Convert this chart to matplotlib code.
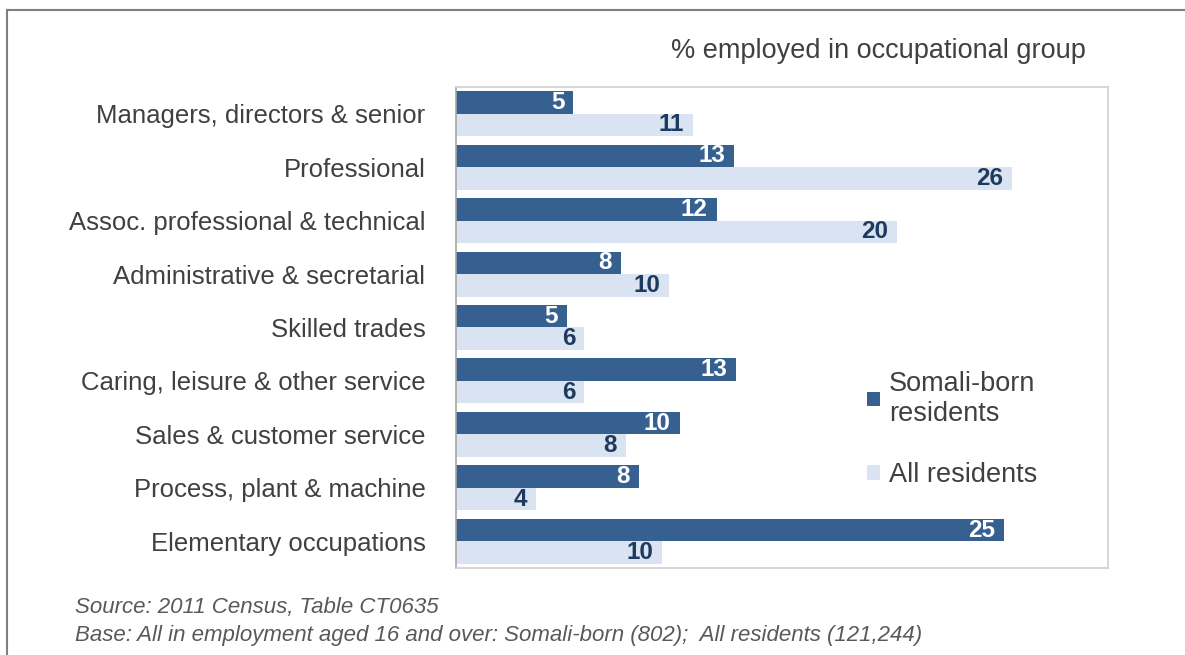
import matplotlib
matplotlib.use("Agg")
import matplotlib.pyplot as plt
from matplotlib.lines import Line2D
import numpy as np

plt.rcParams["font.family"] = ["Liberation Sans", "DejaVu Sans"]

# occupational groups, top to bottom
groups = [
    "Managers, directors & senior",
    "Professional",
    "Assoc. professional & technical",
    "Administrative & secretarial",
    "Skilled trades",
    "Caring, leisure & other service",
    "Sales & customer service",
    "Process, plant & machine",
    "Elementary occupations",
]
# % employed, labels shown rounded
somali = [5.4, 12.8, 12.0, 7.6, 5.1, 12.9, 10.3, 8.4, 25.2]
all_res = [10.9, 25.6, 20.3, 9.8, 5.9, 5.9, 7.8, 3.7, 9.5]

DARK = "#36608F"
LIGHT = "#DAE3F1"
NAVY = "#1F3A5F"
INK = "#404040"
GREY = "#595959"

fig = plt.figure(figsize=(11.85, 6.55), dpi=100)
ax = fig.add_axes([0.3848, 0.1328, 0.5502, 0.7344])

y = np.arange(len(groups))
h = 0.42
b1 = ax.barh(y - h / 2, somali, height=h, color=DARK, label="Somali-born\nresidents")
b2 = ax.barh(y + h / 2, all_res, height=h, color=LIGHT, label="All residents")

for bars, vals, col in ((b1, somali, "white"), (b2, all_res, NAVY)):
    for bar, v in zip(bars, vals):
        ax.annotate(f"{round(v)}", (v, bar.get_y() + bar.get_height() / 2),
                    xytext=(-6.5, 0), textcoords="offset points",
                    ha="right", va="center", fontsize=17.5, fontweight="bold",
                    color=col)

ax.set_xlim(0, 30)
ax.set_ylim(len(groups) - 0.5, -0.5)
ax.set_xticks([])
ax.set_yticks(y)
ax.set_yticklabels(groups, fontsize=18.5, color=INK)
ax.tick_params(axis="y", length=0, pad=22)
for s in ax.spines.values():
    s.set_color("#D0D0D0")
    s.set_linewidth(1.2)
ax.spines["left"].set_color("#A6A6A6")

leg = ax.legend(loc="upper left", bbox_to_anchor=(0.631, 0.41), frameon=False,
                fontsize=19.5, handlelength=0.45, handleheight=0.45,
                handletextpad=0.35, labelspacing=1.3, labelcolor=INK,
                borderpad=0, borderaxespad=0)

fig.text(0.916, 0.922, "% employed in occupational group", ha="right",
         va="center", fontsize=19.5, color=INK)

fig.text(0.063, 0.072, "Source: 2011 Census, Table CT0635", fontsize=16,
         style="italic", color=GREY, va="center")
fig.text(0.063, 0.030,
         "Base: All in employment aged 16 and over: Somali-born (802);  All residents (121,244)",
         fontsize=16, style="italic", color=GREY, va="center")

# outer frame (top and left edges visible in the crop)
fig.add_artist(Line2D([0.006, 1.0], [0.985, 0.985], color="#808080", lw=1.5,
                      transform=fig.transFigure))
fig.add_artist(Line2D([0.006, 0.006], [0.0, 0.985], color="#808080", lw=1.5,
                      transform=fig.transFigure))

fig.savefig("out.png", dpi=100)
